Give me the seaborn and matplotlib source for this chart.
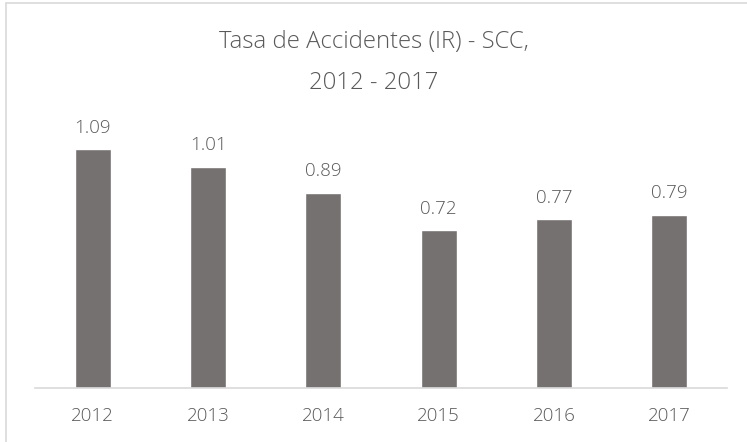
import matplotlib
matplotlib.use("Agg")
import matplotlib.pyplot as plt
import seaborn as sns
import pandas as pd
from matplotlib.patches import Rectangle

# data
years = ["2012", "2013", "2014", "2015", "2016", "2017"]
rates = [1.09, 1.01, 0.89, 0.72, 0.77, 0.79]
title_lines = ["Tasa de Accidentes (IR) - SCC,", "2012 - 2017"]

BAR_COLOR = "#767171"
TEXT_COLOR = "#595959"
AXIS_COLOR = "#d9d9d9"

sns.set_theme(style="white")
plt.rcParams["font.family"] = ["Open Sans", "DejaVu Sans"]

df = pd.DataFrame({"year": years, "rate": rates})

fig = plt.figure(figsize=(7.47, 4.42), dpi=100)
W, H = 747, 442
# axes placed in pixel terms (left 35, right 727, bottom 388, top 125)
ax = fig.add_axes([35 / W, (H - 388) / H, (727 - 35) / W, (388 - 125) / H])

sns.barplot(data=df, x="year", y="rate", color=BAR_COLOR, width=0.31,
            saturation=1, ax=ax)

ax.set_xlim(-0.5, len(years) - 0.5)
ax.set_ylim(0, 1.2)
ax.set_xlabel("")
ax.set_ylabel("")
ax.set_yticks([])
for side in ["left", "right", "top"]:
    ax.spines[side].set_visible(False)
ax.spines["bottom"].set_color(AXIS_COLOR)
ax.spines["bottom"].set_linewidth(1.2)
ax.tick_params(axis="x", length=0, pad=14, labelsize=13.5, labelcolor=TEXT_COLOR)
for lbl in ax.get_xticklabels():
    lbl.set_fontweight(300)

for i, v in enumerate(rates):
    ax.annotate(f"{v:.2f}", (i, v), xytext=(0, 9), textcoords="offset points",
                ha="center", va="bottom", fontsize=13.5, color=TEXT_COLOR,
                fontweight=300)

fig.text(0.5, 1 - 42 / H, title_lines[0], ha="center", va="center",
         fontsize=17.2, color=TEXT_COLOR, fontweight=300)
fig.text(0.5, 1 - 83 / H, title_lines[1], ha="center", va="center",
         fontsize=17.2, color=TEXT_COLOR, fontweight=300)

# chart frame (only left/top edges visible in the reference crop)
fig.patches.append(Rectangle((6 / W, -0.1), 1.2, 1 - 3 / H + 0.1,
                             transform=fig.transFigure, fill=False,
                             edgecolor=AXIS_COLOR, linewidth=1.2))

fig.savefig("out.png", dpi=100)
